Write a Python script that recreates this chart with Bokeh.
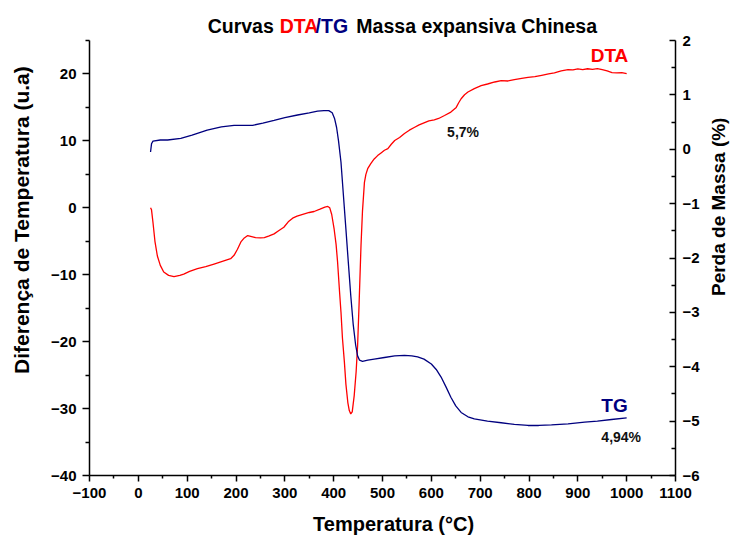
import math
from bokeh.plotting import figure
from bokeh.models import Range1d, LinearAxis, Label, FixedTicker
from bokeh.embed import file_html
from bokeh.resources import INLINE

# DTA curve (left axis)
dta_temp = [25, 27, 30, 34, 39, 45, 52, 62, 73, 85, 93, 105, 121, 138, 155, 172, 189, 196, 203, 210,
            217, 224, 232, 240, 250, 258, 268, 278, 288, 298, 307, 316, 325, 340, 350, 360, 372, 382,
            388, 392, 396, 401, 405, 408, 412, 415, 418, 422, 425, 429, 432, 435, 438, 442, 446, 449,
            452, 456, 459, 463, 466, 470, 476, 483, 490, 497, 504, 511, 518, 525, 535, 545, 555, 565,
            575, 585, 595, 606, 615, 627, 640, 651, 656, 661, 668, 675, 688, 702, 715, 730, 743, 757,
            770, 785, 798, 812, 826, 840, 852, 866, 880, 890, 900, 910, 920, 930, 940, 950, 960, 970,
            980, 990, 1000]
dta_val = [0.0, -0.3, -2.2, -5.0, -7.2, -8.6, -9.6, -10.1, -10.3, -10.1, -9.9, -9.5, -9.1, -8.8, -8.4,
           -8.0, -7.6, -7.1, -6.2, -5.1, -4.5, -4.15, -4.3, -4.45, -4.5, -4.45, -4.2, -3.9, -3.4, -2.9,
           -2.1, -1.55, -1.25, -0.9, -0.7, -0.55, -0.2, 0.1, 0.2, 0.0, -1.0, -3.2, -5.5, -8.1, -12.5,
           -15.6, -19.5, -23.1, -26.3, -29.1, -30.3, -30.8, -30.5, -28.1, -24.5, -20.6, -14.5, -5.6,
           -0.5, 3.8, 5.0, 5.9, 6.6, 7.3, 7.8, 8.2, 8.6, 8.85, 9.5, 10.05, 10.5, 11.1, 11.6, 12.0, 12.4,
           12.7, 13.0, 13.15, 13.35, 13.8, 14.3, 15.0, 15.7, 16.3, 16.9, 17.3, 17.8, 18.25, 18.5, 18.8,
           19.0, 18.95, 19.15, 19.35, 19.5, 19.6, 19.8, 20.0, 20.15, 20.45, 20.65, 20.6, 20.75, 20.65,
           20.78, 20.7, 20.8, 20.65, 20.45, 20.2, 20.15, 20.2, 20.05]

# TG curve (right axis)
tg_temp = [25, 27, 30, 45, 60, 87, 110, 141, 170, 196, 215, 234, 255, 278, 300, 326, 350, 367, 380,
           390, 397, 402, 406, 410, 415, 420, 425, 430, 435, 440, 445, 449, 453, 459, 470, 483, 504,
           525, 545, 560, 572, 585, 600, 610, 620, 630, 640, 650, 661, 675, 688, 715, 743, 770, 798,
           820, 846, 880, 914, 940, 969, 1000]
tg_val = [-0.05, 0.10, 0.15, 0.17, 0.17, 0.20, 0.26, 0.35, 0.41, 0.44, 0.44, 0.44, 0.48, 0.53, 0.58,
          0.63, 0.67, 0.70, 0.71, 0.71, 0.67, 0.56, 0.40, 0.15, -0.24, -0.85, -1.46, -2.08, -2.69,
          -3.22, -3.6, -3.80, -3.88, -3.90, -3.88, -3.86, -3.83, -3.80, -3.79, -3.80, -3.82, -3.86,
          -3.95, -4.05, -4.19, -4.37, -4.56, -4.72, -4.84, -4.92, -4.96, -5.00, -5.03, -5.06, -5.08,
          -5.08, -5.07, -5.05, -5.02, -5.00, -4.97, -4.94]

x_ticks = list(range(-100, 1101, 100))
x_minor = list(range(-50, 1051, 100))
left_ticks = list(range(-40, 21, 10))
left_minor = [-35, -25, -15, -5, 5, 15, 25]
right_ticks = list(range(-6, 3))
right_minor = [-5.5, -4.5, -3.5, -2.5, -1.5, -0.5, 0.5, 1.5]

FONT = "Liberation Sans"
RED = "#FF0000"
NAVY = "#00007F"
NB = "\u00a0"

# the frame extends above the axes (axis lines are bounded) so the title fits inside it
LEFT_PX_PER_UNIT = 435 / 65.0
RIGHT_PX_PER_UNIT = 435 / 8.0
EXTRA_TOP_PX = 35
left_top = 25 + EXTRA_TOP_PX / LEFT_PX_PER_UNIT
right_top = 2 + EXTRA_TOP_PX / RIGHT_PX_PER_UNIT

p = figure(width=743, height=543, output_backend="svg", toolbar_location=None,
           x_range=Range1d(-100, 1100), y_range=Range1d(-40, left_top),
           min_border_left=89, min_border_right=68, min_border_top=5, min_border_bottom=68)
p.extra_y_ranges = {"tg": Range1d(-6, right_top)}
p.outline_line_color = None
p.xgrid.visible = False
p.ygrid.visible = False
p.background_fill_color = "white"
p.border_fill_color = "white"

def style_axis(ax, label_size):
    ax.axis_line_width = 1.5
    ax.axis_line_color = "black"
    ax.major_tick_line_width = 1.5
    ax.minor_tick_line_width = 1.5
    ax.major_tick_line_color = "black"
    ax.minor_tick_line_color = "black"
    ax.major_label_text_font = FONT
    ax.major_label_text_font_style = "bold"
    ax.major_label_text_font_size = "15px"
    ax.major_label_text_color = "black"
    ax.axis_label_text_font = FONT
    ax.axis_label_text_font_style = "bold"
    ax.axis_label_text_font_size = label_size
    ax.axis_label_text_color = "black"

xa = p.xaxis[0]
xa.ticker = FixedTicker(ticks=x_ticks, minor_ticks=x_minor)
xa.axis_label = NB * 4 + "Temperatura (°C)"
style_axis(xa, "20px")
xa.major_tick_out = 6
xa.major_tick_in = 0
xa.minor_tick_out = 3
xa.minor_tick_in = 0
xa.major_label_standoff = 6
xa.axis_label_standoff = 12

ya = p.yaxis[0]
ya.ticker = FixedTicker(ticks=left_ticks, minor_ticks=left_minor)
ya.bounds = (-40, 25)
ya.axis_label = NB * 7 + "Diferença de Temperatura (u.a)"
style_axis(ya, "21px")
ya.major_tick_out = 7
ya.major_tick_in = 0
ya.minor_tick_out = 4
ya.minor_tick_in = 0
ya.major_label_standoff = 6
ya.axis_label_standoff = 15

ra = LinearAxis(y_range_name="tg")
ra.ticker = FixedTicker(ticks=right_ticks, minor_ticks=right_minor)
ra.bounds = (-6, 2)
style_axis(ra, "19px")
ra.major_tick_out = 0
ra.major_tick_in = 6
ra.minor_tick_out = 0
ra.minor_tick_in = 4
ra.major_label_standoff = 7
ra.axis_label_standoff = 16
props = ra.properties()
if "axis_label_orientation" in props and "axis_label_align" in props:
    # text reads bottom-to-top like the reference, starting at the bottom of the panel;
    # padding at the start (bottom) lifts the visible text to the reference position
    ra.axis_label_orientation = math.pi / 2
    ra.axis_label_align = "start"
    ra.axis_label = NB * 34 + "Perda de Massa (%)"
else:
    ra.axis_label = "Perda de Massa (%)" + NB * 12
p.add_layout(ra, "right")

p.line(dta_temp, dta_val, line_color=RED, line_width=1.3)
p.line(tg_temp, tg_val, line_color=NAVY, line_width=1.3, y_range_name="tg")

def lab(x, y, text, color, size, yr="default"):
    l = Label(x=x, y=y, text=text, text_color=color, text_font=FONT, text_font_style="bold",
              text_font_size=size, text_align="left", text_baseline="alphabetic",
              y_range_name=yr)
    p.add_layout(l)

# title pieces
lab(142.0, 27.24, "Curvas", "black", "19.5px")
lab(289.4, 27.24, "DTA", RED, "19.5px")
lab(363.0, 27.24, "/TG", NAVY, "19.5px")
lab(446.5, 27.24, "Massa expansiva Chinesa", "black", "19.5px")

# annotations
lab(926.3, 22.76, "DTA", RED, "19px")
lab(948.2, -29.56, "TG", NAVY, "19px")
lab(948.2, -34.30, "4,94%", "#111111", "14px")
lab(632.3, 11.40, "5,7%", "#111111", "14px")

open("out.html", "w").write(file_html(p, INLINE))
